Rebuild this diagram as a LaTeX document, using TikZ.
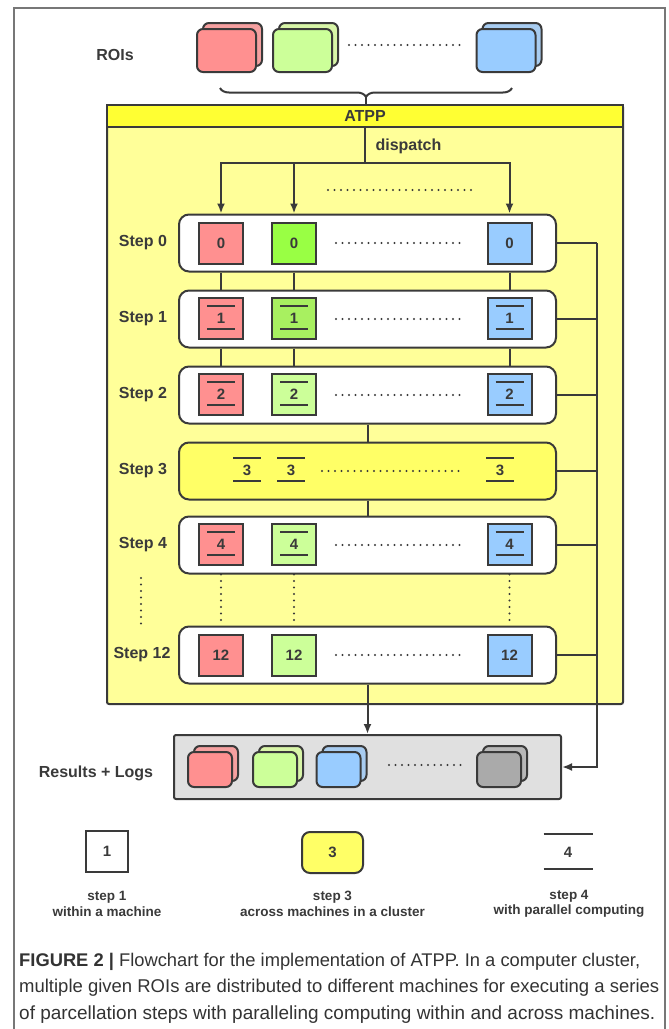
\documentclass[tikz,border=0pt]{standalone}
\usepackage{fontspec}
\usepackage{graphicx}
\setmainfont{Liberation Sans}
\usetikzlibrary{arrows.meta,decorations.pathreplacing}

\definecolor{linec}{HTML}{3A3A3A}
\definecolor{framec}{HTML}{777777}
\definecolor{capc}{HTML}{333333}
\definecolor{redF}{HTML}{FF9090}
\definecolor{redB}{HTML}{F5A0A0}
\definecolor{greenA}{HTML}{99FF44}
\definecolor{greenM}{HTML}{A8F060}
\definecolor{greenF}{HTML}{CCFF99}
\definecolor{greenB}{HTML}{D8F5A8}
\definecolor{blueF}{HTML}{99CCFF}
\definecolor{blueB}{HTML}{A8CCF0}
\definecolor{grayF}{HTML}{AAAAAA}
\definecolor{grayB}{HTML}{B8B8B8}
\definecolor{yelH}{HTML}{FFFF33}
\definecolor{yelB}{HTML}{FFFF99}
\definecolor{yelS}{HTML}{FFFF66}
\definecolor{resbg}{HTML}{E0E0E0}

\begin{document}
\begin{tikzpicture}[x=1pt,y=-1pt]
	\tikzset{
		stepbox/.style = {draw=linec, line width=2pt, rounded corners=10pt, fill=white, minimum width=377pt, minimum height=57pt},
		cell/.style = {draw=linec, line width=2pt, minimum width=44pt, minimum height=41pt, inner sep=0pt, text=linec, font=\bfseries\fontsize{15}{15}\selectfont},
		bars/.style = {path picture={\draw[linec, line width=1.6pt] ([xshift=-14pt,yshift=12pt]path picture bounding box.center) -- ++(28pt,0pt) ([xshift=-14pt,yshift=-11pt]path picture bounding box.center) -- ++(28pt,0pt);}},
		steplabel/.style = {text=linec, font=\bfseries\fontsize{16}{16}\selectfont},
		conn/.style = {draw=linec, line width=2pt},
		arw/.style = {conn, -{Latex[length=10pt,width=8pt]}},
		dotline/.style = {linec, line width=2.2pt, line cap=round, dash pattern=on 0pt off 6.5pt},
		roi/.style = {draw=linec, line width=2pt, rounded corners=6pt, minimum width=59pt, minimum height=43pt, inner sep=0pt},
		res/.style = {roi, minimum width=44pt, minimum height=35pt},
		legtext/.style = {text=linec, align=center, font=\bfseries\fontsize{13.5}{15.5}\selectfont}
	}

	\useasboundingbox (0,0) rectangle (669,1029);
	\draw[framec, line width=1.2pt] (14,1040) -- (14,8) -- (665,8) -- (665,1040);

	% input regions
	\node[steplabel] (ROIs) at (115,55) {ROIs};
	\node[roi, fill=redB] at (232.5,44.5) {};
	\node[roi, fill=redF] (ROI_1) at (226.5,50.5) {};
	\node[roi, fill=greenB] at (308.5,44.5) {};
	\node[roi, fill=greenF] (ROI_2) at (302.5,50.5) {};
	\node[roi, fill=blueB] at (512,44.5) {};
	\node[roi, fill=blueF] (ROI_n) at (506,50.5) {};
	\draw[dotline] (349,45) -- (463,45);

	% ATPP frame
	\node[draw=linec, line width=2pt, fill=yelB, rounded corners=2pt, minimum width=516pt, minimum height=599pt] (ATPP) at (365,404.5) {};
	\node[steplabel, draw=linec, line width=2pt, fill=yelH, minimum width=516pt, minimum height=22pt, inner sep=0pt] (Head) at (365,116) {ATPP};

	\draw[linec, line width=2pt, decorate, decoration={brace, mirror, amplitude=9pt}] (220,88) -- (512,88);
	\draw[conn] (366,97) -- (Head.north -| 366,0);

	% steps
	\node[stepbox] (S_0) at (367.5,243) {};
	\node[steplabel] (L_0) at (143,243) {Step 0};
	\node[cell, fill=redF] (R_0) at (221,243) {0};
	\node[cell, fill=greenA] (G_0) at (294,243) {0};
	\node[cell, fill=blueF] (B_0) at (509.5,243) {0};
	\draw[dotline] (336,243) -- (463,243);

	\node[stepbox] (S_1) at (367.5,319) {};
	\node[steplabel] (L_1) at (143,319) {Step 1};
	\node[cell, bars, fill=redF] (R_1) at (221,318) {1};
	\node[cell, bars, fill=greenM] (G_1) at (294,318) {1};
	\node[cell, bars, fill=blueF] (B_1) at (509.5,318) {1};
	\draw[dotline] (336,319) -- (463,319);

	\node[stepbox] (S_2) at (367.5,395) {};
	\node[steplabel] (L_2) at (143,395) {Step 2};
	\node[cell, bars, fill=redF] (R_2) at (221,394) {2};
	\node[cell, bars, fill=greenF] (G_2) at (294,394) {2};
	\node[cell, bars, fill=blueF] (B_2) at (509.5,394) {2};
	\draw[dotline] (336,395) -- (463,395);

	\node[stepbox, fill=yelS] (S_3) at (367.5,471) {};
	\node[steplabel] (L_3) at (143,471) {Step 3};
	\node[cell, bars, draw=none, minimum width=30pt, minimum height=30pt] (T_1) at (247,470) {3};
	\node[cell, bars, draw=none, minimum width=30pt, minimum height=30pt] (T_2) at (291,470) {3};
	\node[cell, bars, draw=none, minimum width=30pt, minimum height=30pt] (T_3) at (500,470) {3};
	\draw[dotline] (322,471) -- (463,471);

	\node[stepbox] (S_4) at (367.5,545) {};
	\node[steplabel] (L_4) at (143,545) {Step 4};
	\node[cell, bars, fill=redF] (R_4) at (221,544) {4};
	\node[cell, bars, fill=greenF] (G_4) at (294,544) {4};
	\node[cell, bars, fill=blueF] (B_4) at (509.5,544) {4};
	\draw[dotline] (336,545) -- (463,545);

	\node[stepbox] (S_12) at (367.5,655) {};
	\node[steplabel] (L_12) at (142,655) {Step 12};
	\node[cell, fill=redF] (R_12) at (221,655) {12};
	\node[cell, fill=greenF] (G_12) at (294,655) {12};
	\node[cell, fill=blueF] (B_12) at (509.5,655) {12};
	\draw[dotline] (336,655) -- (463,655);

	% dispatch
	\coordinate (D) at (365,163);
	\draw[conn] (Head.south) -- (D);
	\node[steplabel, anchor=west] (Disp) at (372,146) {dispatch};
	\draw[arw] (D) -| (R_0.north |- S_0.north);
	\draw[arw] (D) -| (G_0.north |- S_0.north);
	\draw[arw] (D) -| (B_0.north |- S_0.north);
	\draw[dotline] (328,190) -- (472,190);

	% links between steps
	\draw[conn] (R_0 |- S_0.south) -- (R_1 |- S_1.north);
	\draw[conn] (G_0 |- S_0.south) -- (G_1 |- S_1.north);
	\draw[conn] (B_0 |- S_0.south) -- (B_1 |- S_1.north);
	\draw[conn] (R_1 |- S_1.south) -- (R_2 |- S_2.north);
	\draw[conn] (G_1 |- S_1.south) -- (G_2 |- S_2.north);
	\draw[conn] (B_1 |- S_1.south) -- (B_2 |- S_2.north);
	\draw[conn] (S_2.south) -- (S_3.north);
	\draw[conn] (S_3.south) -- (S_4.north);
	\draw[dotline] (R_4 |- S_4.south) -- (R_12 |- S_12.north);
	\draw[dotline] (G_4 |- S_4.south) -- (G_12 |- S_12.north);
	\draw[dotline] (B_4 |- S_4.south) -- (B_12 |- S_12.north);
	\draw[dotline] (141,578) -- (141,628);

	% results
	\node[draw=linec, line width=2pt, fill=resbg, rounded corners=2pt, minimum width=387pt, minimum height=64pt] (Res) at (367.5,767) {};
	\node[steplabel] (LRes) at (96,773) {Results + Logs};
	\node[res, fill=redB] at (216,763.5) {};
	\node[res, fill=redF] (Out_1) at (210,769.5) {};
	\node[res, fill=greenB] at (281,763.5) {};
	\node[res, fill=greenF] (Out_2) at (275,769.5) {};
	\node[res, fill=blueB] at (344.5,763.5) {};
	\node[res, fill=blueF] (Out_3) at (338.5,769.5) {};
	\node[res, fill=grayB] at (505,763.5) {};
	\node[res, fill=grayF] (Out_n) at (499,769.5) {};
	\draw[dotline] (389,765) -- (463,765);

	\draw[arw] (S_12.south) -- (Res.north);

	% collecting line on the right
	\coordinate (busT) at (597,243);
	\coordinate (busB) at (597,767);
	\draw[conn] (S_0.east) -- (busT);
	\draw[conn] (S_1.east) -- (S_1.east -| busT);
	\draw[conn] (S_2.east) -- (S_2.east -| busT);
	\draw[conn] (S_3.east) -- (S_3.east -| busT);
	\draw[conn] (S_4.east) -- (S_4.east -| busT);
	\draw[conn] (S_12.east) -- (S_12.east -| busT);
	\draw[arw] (busT) -- (busB) -- (Res.east);

	% legend
	\node[cell, minimum width=42pt] (K_1) at (107,851.5) {1};
	\node[cell, fill=yelS, rounded corners=8pt, minimum width=61pt] (K_3) at (332.5,852.5) {3};
	\node[text=linec, font=\bfseries\fontsize{15}{15}\selectfont] (K_4) at (568,852) {4};
	\draw[linec, line width=2pt] ([xshift=-24.5pt,yshift=18pt]K_4.center) -- ++(49pt,0pt);
	\draw[linec, line width=2pt] ([xshift=-24.5pt,yshift=-17pt]K_4.center) -- ++(49pt,0pt);
	\node[legtext] (KT_1) at (107,904) {step 1\\within a machine};
	\node[legtext] (KT_3) at (332.5,904) {step 3\\across machines in a cluster};
	\node[legtext] (KT_4) at (569,904) {step 4\\with parallel computing};

	% caption
	\node[anchor=west, inner sep=0pt, text=capc] (Cap_1) at (19,962) {\resizebox{621pt}{!}{\fontsize{17}{20}\selectfont\textbf{FIGURE 2 |} Flowchart for the implementation of ATPP. In a computer cluster,}};
	\node[anchor=west, inner sep=0pt, text=capc] (Cap_2) at (19,988) {\resizebox{640pt}{!}{\fontsize{17}{20}\selectfont multiple given ROIs are distributed to different machines for executing a series}};
	\node[anchor=west, inner sep=0pt, text=capc] (Cap_3) at (19,1015) {\resizebox{636pt}{!}{\fontsize{17}{20}\selectfont of parcellation steps with paralleling computing within and across machines.}};

\end{tikzpicture}
\end{document}
